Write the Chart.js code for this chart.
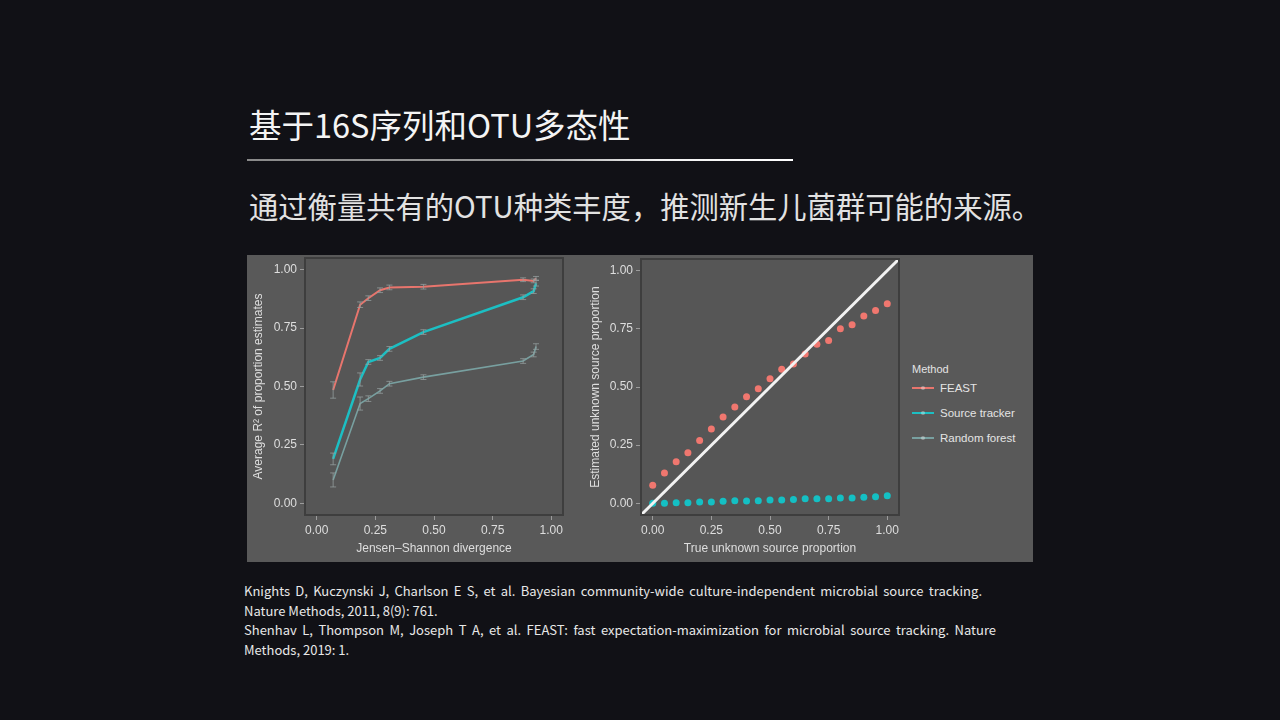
<!DOCTYPE html>
<html lang="zh-CN">
<head>
<meta charset="UTF-8">
<title>基于16S序列和OTU多态性</title>
<script src="https://cdn.jsdelivr.net/npm/chart.js"></script>
<style>
  body { margin: 0; width: 1280px; height: 720px; background: #111116; overflow: hidden; position: relative;
         font-family: "Microsoft YaHei", "Noto Sans CJK SC", sans-serif; }
  .title { position: absolute; left: 249px; top: 104px; font-size: 32.5px; line-height: 40px; color: #f4f4f4; white-space: nowrap; }
  .rule { position: absolute; left: 247px; top: 159px; width: 546px; height: 2px;
          background: linear-gradient(90deg, #8a8a8a, #9a9a9a 50%, #f0f0f0 75%, #ffffff); }
  .subtitle { position: absolute; left: 249px; top: 185px; font-size: 29.3px; line-height: 40px; color: #e2e2e2; white-space: nowrap; }
  .figure { position: absolute; left: 247px; top: 255px; width: 786px; height: 307px; background: #595959; }
  .wrap { position: absolute; top: 255px; height: 307px; }
  .legend { position: absolute; left: 912px; top: 363px; font-family: "Liberation Sans", Arial, sans-serif; color: #e4e4e4; }
  .legend .head { font-size: 11px; margin-bottom: 0; }
  .legend .item { display: flex; align-items: center; height: 25px; font-size: 11.5px; }
  .legend .swatch { width: 22px; height: 2px; margin-right: 6px; position: relative; }
  .legend .swatch::after { content: ""; position: absolute; left: 9px; top: -1px; width: 4px; height: 4px; border-radius: 2px; background: rgba(255,255,255,0.35); }
  .refs { position: absolute; left: 244px; top: 581px; font-size: 13px; line-height: 19.6px; color: #e8e8e8; }
  .refs div { white-space: nowrap; }
  .refs .j { text-align: justify; text-align-last: justify; white-space: normal; }
</style>
</head>
<body>
  <div class="title">基于16S序列和OTU多态性</div>
  <div class="rule"></div>
  <div class="subtitle">通过衡量共有的OTU种类丰度，推测新生儿菌群可能的来源。</div>

  <div class="figure"></div>
  <div class="wrap" style="left:247px; width:330px;"><canvas id="jsdChart"></canvas></div>
  <div class="wrap" style="left:577px; width:335px;"><canvas id="unknownChart"></canvas></div>

  <div class="legend">
    <div class="head">Method</div>
    <div class="item"><span class="swatch" style="background:#e8756d"></span>FEAST</div>
    <div class="item"><span class="swatch" style="background:#1cbfc3"></span>Source tracker</div>
    <div class="item"><span class="swatch" style="background:#78a0a0"></span>Random forest</div>
  </div>

  <div class="refs">
    <div class="j" style="width:738px">Knights D, Kuczynski J, Charlson E S, et al. Bayesian community-wide culture-independent microbial source tracking.</div>
    <div>Nature Methods, 2011, 8(9): 761.</div>
    <div class="j" style="width:752px">Shenhav L, Thompson M, Joseph T A, et al. FEAST: fast expectation-maximization for microbial source tracking. Nature</div>
    <div>Methods, 2019: 1.</div>
  </div>

<script>
// left panel: R^2 vs Jensen-Shannon divergence
const jsdX       = [0.07, 0.185, 0.22, 0.27, 0.31, 0.455, 0.88, 0.925, 0.935];
const feastR2    = [0.485, 0.85, 0.878, 0.912, 0.924, 0.927, 0.957, 0.952, 0.963];
const feastErr   = [0.035, 0.012, 0.01, 0.01, 0.01, 0.01, 0.008, 0.008, 0.008];
const trackerR2  = [0.19, 0.53, 0.605, 0.622, 0.661, 0.733, 0.882, 0.908, 0.942];
const trackerErr = [0.025, 0.028, 0.01, 0.01, 0.01, 0.01, 0.01, 0.01, 0.012];
const forestR2   = [0.10, 0.427, 0.448, 0.481, 0.512, 0.540, 0.609, 0.637, 0.671];
const forestErr  = [0.03, 0.028, 0.012, 0.01, 0.01, 0.01, 0.01, 0.01, 0.012];

// right panel: estimated vs true unknown source proportion
const trueProp   = [0, 0.05, 0.10, 0.15, 0.20, 0.25, 0.30, 0.35, 0.40, 0.45, 0.50,
                    0.55, 0.60, 0.65, 0.70, 0.75, 0.80, 0.85, 0.90, 0.95, 1.00];
const feastEst   = [0.078, 0.131, 0.179, 0.218, 0.270, 0.320, 0.371, 0.414, 0.458, 0.492, 0.535,
                    0.576, 0.599, 0.642, 0.684, 0.700, 0.750, 0.767, 0.805, 0.829, 0.858];
const trackerEst = [0.0, 0.0, 0.003, 0.003, 0.006, 0.006, 0.009, 0.011, 0.010, 0.011, 0.014,
                    0.014, 0.017, 0.020, 0.020, 0.020, 0.023, 0.023, 0.026, 0.028, 0.033];
const identityLine = [-0.05, 1.05];

const axisTicks = [0, 0.25, 0.5, 0.75, 1];
const textColor = '#dedede';
const plotFont = { family: '"Liberation Sans", Arial, sans-serif', size: 12 };

const pairs = (xs, ys) => xs.map((x, i) => ({ x: x, y: ys[i] }));

// ggplot-like panel: darker frame around the plotting area
const panel = {
  id: 'panel',
  beforeDraw(chart) {
    const { ctx, chartArea: a } = chart;
    ctx.save();
    ctx.fillStyle = '#565656';
    ctx.fillRect(a.left, a.top, a.width, a.height);
    ctx.restore();
  },
  afterDraw(chart) {
    const { ctx, chartArea: a } = chart;
    ctx.save();
    ctx.strokeStyle = '#3e3e3e';
    ctx.lineWidth = 2;
    ctx.strokeRect(a.left, a.top, a.width, a.height);
    ctx.restore();
  }
};

const errorBars = {
  id: 'errorBars',
  afterDatasetsDraw(chart) {
    const { ctx, scales: { x, y } } = chart;
    chart.data.datasets.forEach(ds => {
      if (!ds.errors) return;
      ctx.save();
      ctx.strokeStyle = ds.errorColor;
      ctx.lineWidth = 1;
      ds.data.forEach((p, i) => {
        const px = x.getPixelForValue(p.x);
        const lo = y.getPixelForValue(p.y - ds.errors[i]);
        const hi = y.getPixelForValue(p.y + ds.errors[i]);
        ctx.beginPath();
        ctx.moveTo(px, lo); ctx.lineTo(px, hi);
        ctx.moveTo(px - 3, lo); ctx.lineTo(px + 3, lo);
        ctx.moveTo(px - 3, hi); ctx.lineTo(px + 3, hi);
        ctx.stroke();
      });
      ctx.restore();
    });
  }
};

function axis(title, horizontal, size) {
  return {
    type: 'linear',
    min: -0.05,
    max: 1.05,
    afterBuildTicks: s => { s.ticks = axisTicks.map(v => ({ value: v })); },
    afterFit: s => {
      // the 0 and 1 ticks sit inside the expanded range, so no label overhang padding
      if (horizontal) { s.height = size; s.paddingLeft = 0; s.paddingRight = 0; }
      else { s.width = size; s.paddingTop = 0; s.paddingBottom = 0; }
    },
    ticks: { color: textColor, font: plotFont, padding: 3, maxRotation: 0, callback: v => v.toFixed(2) },
    grid: { drawOnChartArea: false, drawTicks: true, tickLength: 5, tickWidth: 1, tickColor: '#9c9c9c' },
    border: { display: false },
    title: { display: true, text: title, color: textColor, font: plotFont, padding: { top: 4, bottom: 6 } }
  };
}

function baseOptions(xTitle, yTitle, yWidth, pad) {
  return {
    responsive: true,
    maintainAspectRatio: false,
    animation: false,
    layout: { padding: pad },
    plugins: { legend: { display: false }, tooltip: { enabled: false } },
    scales: { x: axis(xTitle, true, 47), y: axis(yTitle, false, yWidth) }
  };
}

function lineSet(ys, errs, color, width) {
  return {
    data: pairs(jsdX, ys),
    errors: errs,
    errorColor: 'rgba(150,160,160,0.75)',
    showLine: true,
    borderColor: color,
    borderWidth: width,
    pointRadius: 0,
    fill: false
  };
}

new Chart(document.getElementById('jsdChart'), {
  type: 'scatter',
  data: {
    datasets: [
      lineSet(feastR2, feastErr, '#e8756d', 2),
      lineSet(trackerR2, trackerErr, '#1cbfc3', 2.5),
      lineSet(forestR2, forestErr, '#78a0a0', 1.6)
    ]
  },
  options: baseOptions('Jensen–Shannon divergence', 'Average R² of proportion estimates', 58,
                       { top: 3, right: 14, left: 0, bottom: 0 }),
  plugins: [panel, errorBars]
});

new Chart(document.getElementById('unknownChart'), {
  type: 'scatter',
  data: {
    datasets: [
      {
        data: pairs(identityLine, identityLine),
        showLine: true,
        borderColor: '#f2f2f2',
        borderWidth: 3,
        pointRadius: 0
      },
      {
        data: pairs(trueProp, feastEst),
        backgroundColor: '#f0776f',
        borderWidth: 0,
        pointRadius: 3.5
      },
      {
        data: pairs(trueProp, trackerEst),
        backgroundColor: '#14c0c4',
        borderWidth: 0,
        pointRadius: 3.5
      }
    ]
  },
  options: baseOptions('True unknown source proportion', 'Estimated unknown source proportion', 57,
                       { top: 3, right: 13, left: 7, bottom: 0 }),
  plugins: [panel]
});
</script>
</body>
</html>
